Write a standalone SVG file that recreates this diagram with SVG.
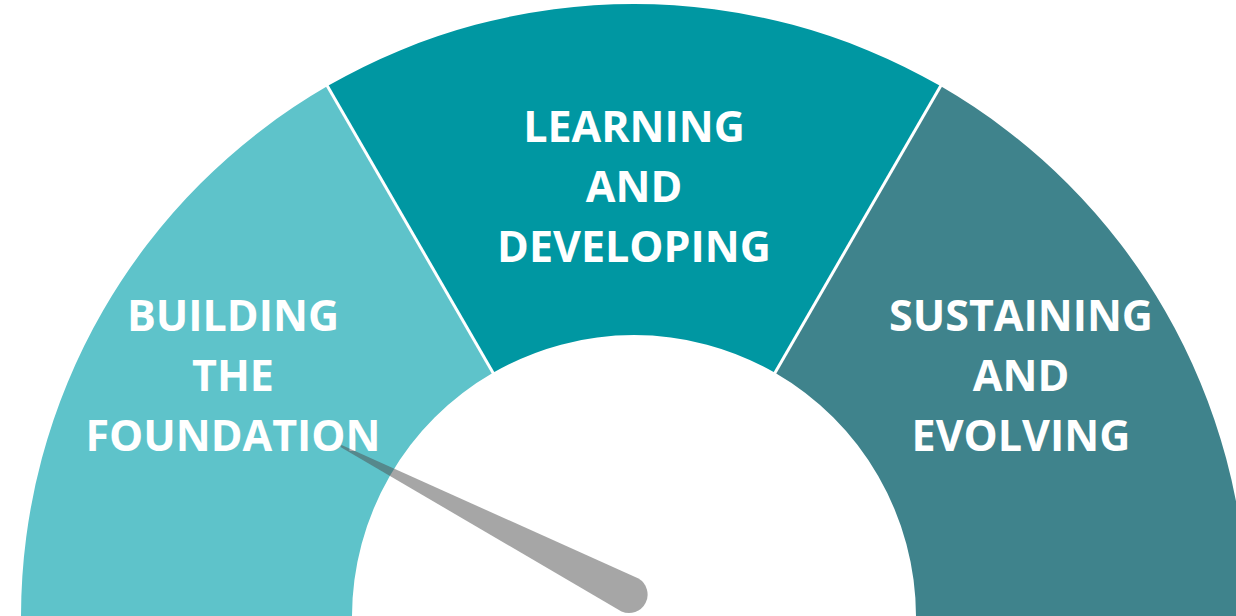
<svg xmlns="http://www.w3.org/2000/svg" width="1236" height="616" viewBox="0 0 1236 616">
  <style>
    .lbl { font-family: "Open Sans", "Liberation Sans", sans-serif; font-weight: 700; font-size: 43px; fill: #ffffff; text-anchor: middle; }
    .sep { stroke: #ffffff; stroke-width: 3; }
  </style>
  <rect x="0" y="0" width="1236" height="616" fill="#ffffff"/>
  <g id="segment-building">
    <path d="M 21 617 A 613 613 0 0 1 327.5 86.1 L 493 372.8 A 282 282 0 0 0 352 617 Z" fill="#5EC3CA"/>
  </g>
  <g id="segment-learning">
    <path d="M 327.5 86.1 A 613 613 0 0 1 940.5 86.1 L 775 372.8 A 282 282 0 0 0 493 372.8 Z" fill="#0097A2"/>
  </g>
  <g id="segment-sustaining">
    <path d="M 940.5 86.1 A 613 613 0 0 1 1247 617 L 916 617 A 282 282 0 0 0 775 372.8 Z" fill="#3F838C"/>
  </g>
  <g id="connectors">
    <line class="sep" x1="494" y1="374.5" x2="326.5" y2="84.4"/>
    <line class="sep" x1="774" y1="374.5" x2="941.5" y2="84.4"/>
  </g>
  <g id="label-building">
    <text class="lbl" x="233" y="331">BUILDING</text>
    <text class="lbl" x="233" y="391">THE</text>
    <text class="lbl" x="233" y="451">FOUNDATION</text>
  </g>
  <g id="label-learning">
    <text class="lbl" x="634" y="142">LEARNING</text>
    <text class="lbl" x="634" y="202">AND</text>
    <text class="lbl" x="634" y="262">DEVELOPING</text>
  </g>
  <g id="label-sustaining">
    <text class="lbl" x="1021" y="331">SUSTAINING</text>
    <text class="lbl" x="1021" y="391">AND</text>
    <text class="lbl" x="1021" y="451">EVOLVING</text>
  </g>
  <g id="needle">
    <path d="M 340.45 447.07 L 341.55 444.93 L 638.5 578.6 A 18.5 18.5 0 0 1 621.5 611.4 Z" fill="#4D4D4D" fill-opacity="0.5"/>
  </g>
</svg>
